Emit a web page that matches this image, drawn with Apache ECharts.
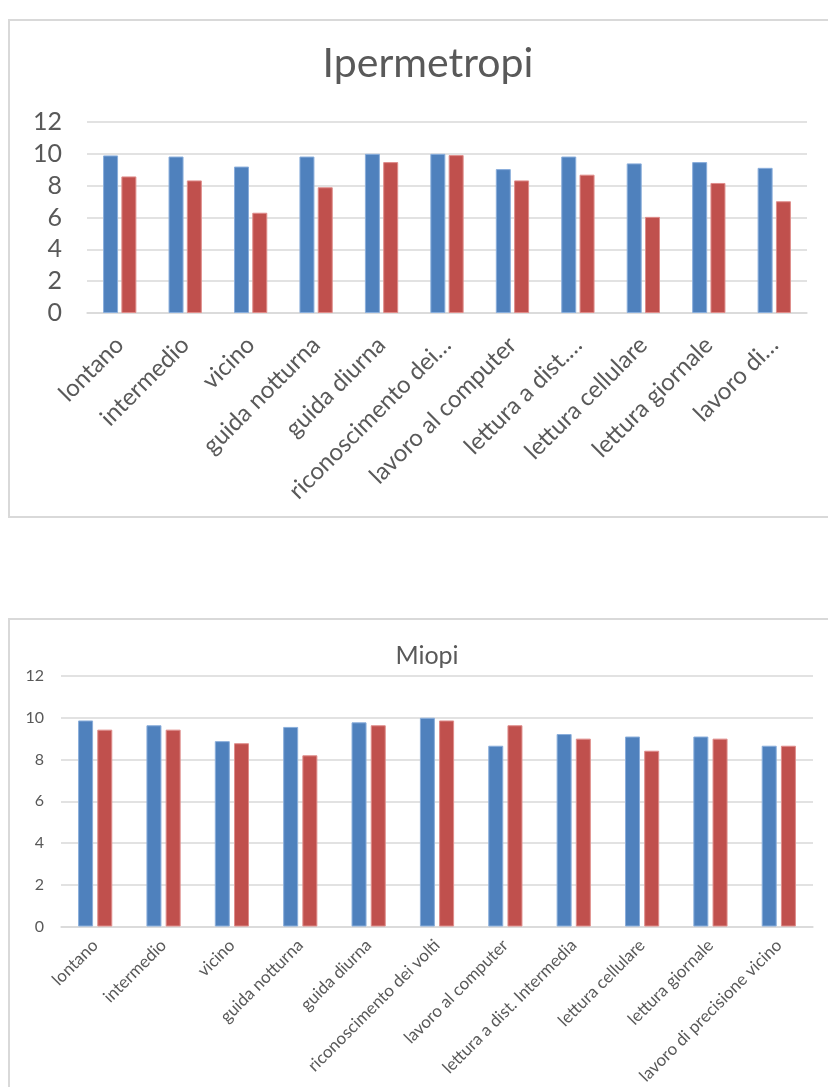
<!DOCTYPE html>
<html>
<head>
<meta charset="utf-8">
<script src="https://cdn.jsdelivr.net/npm/echarts@6/dist/echarts.min.js"></script>
<style>
  html, body { margin: 0; padding: 0; background: #ffffff; }
  #chart { width: 828px; height: 1087px; }
</style>
</head>
<body>
<div id="chart"></div>
<script>
// Visual tasks rated by two groups of participants
const categories = [
  'lontano', 'intermedio', 'vicino', 'guida notturna', 'guida diurna',
  'riconoscimento dei volti', 'lavoro al computer', 'lettura a dist. Intermedia',
  'lettura cellulare', 'lettura giornale', 'lavoro di precisione vicino'
];
// Shortened labels used on the upper chart's axis
const topTickLabels = [
  'lontano', 'intermedio', 'vicino', 'guida notturna', 'guida diurna',
  'riconoscimento dei…', 'lavoro al computer', 'lettura a dist.…',
  'lettura cellulare', 'lettura giornale', 'lavoro di…'
];
const yTicks = [0, 2, 4, 6, 8, 10, 12];

// Ipermetropi
const iperBlue = [9.9, 9.83, 9.2, 9.83, 10.0, 10.0, 9.04, 9.83, 9.4, 9.48, 9.12];
const iperRed  = [8.58, 8.33, 6.3, 7.9, 9.48, 9.92, 8.33, 8.69, 6.04, 8.17, 7.02];

// Miopi
const miopiBlue = [9.87, 9.64, 8.88, 9.56, 9.78, 10.0, 8.66, 9.22, 9.1, 9.1, 8.66];
const miopiRed  = [9.43, 9.43, 8.78, 8.2, 9.64, 9.87, 9.64, 9.0, 8.42, 9.0, 8.66];

const BLUE = '#4f81bd';
const RED = '#c0504d';
const TEXT = '#595959';
const GRID = '#d9d9d9';
const FONT = 'Lato, "Open Sans", sans-serif';

const chart = echarts.init(document.getElementById('chart'), null, { renderer: 'canvas' });

function valueAxis(gridIndex, fontSize, margin) {
  return {
    type: 'value', gridIndex: gridIndex,
    min: yTicks[0], max: yTicks[yTicks.length - 1], interval: yTicks[1] - yTicks[0],
    axisLine: { show: false }, axisTick: { show: false },
    axisLabel: { color: TEXT, fontSize: fontSize, fontFamily: FONT, margin: margin },
    splitLine: { lineStyle: { color: GRID, width: 1.5 } }
  };
}

function categoryAxis(gridIndex, labels, fontSize, margin) {
  return {
    type: 'category', gridIndex: gridIndex, data: categories,
    axisLine: { lineStyle: { color: GRID, width: 1.5 } },
    axisTick: { show: false },
    axisLabel: {
      rotate: 45, interval: 0, color: TEXT, fontSize: fontSize, fontFamily: FONT, margin: margin,
      formatter: function (v, i) { return labels[i]; }
    }
  };
}

function barSeries(name, data, color, border, axisIndex, width, gap) {
  return {
    name: name, type: 'bar', data: data,
    xAxisIndex: axisIndex, yAxisIndex: axisIndex,
    barWidth: width, barGap: gap,
    itemStyle: { color: color, borderColor: border, borderWidth: 1 },
    emphasis: { disabled: true }
  };
}

chart.setOption({
  backgroundColor: '#ffffff',
  animation: false,
  title: [
    { text: 'Ipermetropi', left: 423, textAlign: 'center', top: 38,
      textStyle: { color: TEXT, fontSize: 41, fontWeight: 'normal', fontFamily: FONT } },
    { text: 'Miopi', left: 422, textAlign: 'center', top: 638,
      textStyle: { color: TEXT, fontSize: 25, fontWeight: 'normal', fontFamily: FONT } }
  ],
  graphic: [
    { type: 'rect', shape: { x: 9, y: 20, width: 840, height: 497 },
      style: { fill: null, stroke: GRID, lineWidth: 2 }, silent: true },
    { type: 'rect', shape: { x: 9, y: 619, width: 840, height: 500 },
      style: { fill: null, stroke: GRID, lineWidth: 2 }, silent: true }
  ],
  grid: [
    { left: 87, right: 21, top: 122, bottom: 774 },
    { left: 61, right: 15, top: 676, bottom: 157 }
  ],
  xAxis: [
    categoryAxis(0, topTickLabels, 24, 28),
    categoryAxis(1, categories, 17, 16)
  ],
  yAxis: [
    valueAxis(0, 25, 25),
    valueAxis(1, 16, 17)
  ],
  series: [
    barSeries('Serie 1', iperBlue, BLUE, '#8aaedb', 0, 15, '22%'),
    barSeries('Serie 2', iperRed, RED, '#df8d8b', 0, 15, '22%'),
    barSeries('Serie 1', miopiBlue, BLUE, '#8aaedb', 1, 15, '28%'),
    barSeries('Serie 2', miopiRed, RED, '#df8d8b', 1, 15, '28%')
  ]
});
</script>
</body>
</html>
